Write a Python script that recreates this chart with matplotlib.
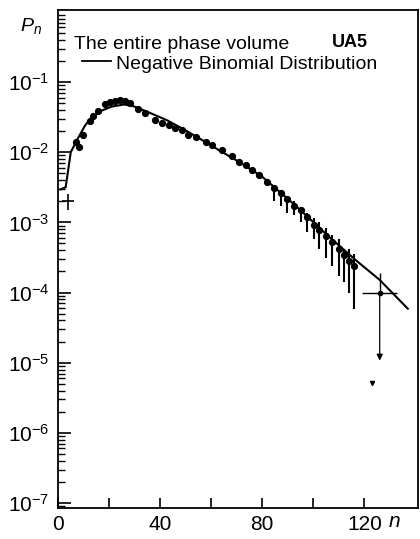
import numpy as np
import matplotlib
matplotlib.use("Agg")
import matplotlib.pyplot as plt
from matplotlib.ticker import FixedLocator, LogLocator, NullFormatter

plt.rcParams['font.family'] = ['Liberation Sans', 'DejaVu Sans']
plt.rcParams['mathtext.fontset'] = 'custom'
plt.rcParams['mathtext.rm'] = 'Liberation Sans'
plt.rcParams['mathtext.it'] = 'Liberation Sans:italic'

# negative binomial fit (log10 P_n)
curve_n = [1, 3, 5, 8, 10.6, 13, 17, 21, 26, 30, 36, 43, 50, 58, 63, 71, 80, 93, 106, 117, 126, 137]
curve_logp = [-2.53, -2.50, -2.0, -1.79, -1.62, -1.51, -1.41, -1.35, -1.32, -1.35, -1.44,
              -1.55, -1.69, -1.86, -1.97, -2.14, -2.35, -2.76, -3.2, -3.55, -3.82, -4.23]

# UA5 data points
pts_n = [7.2, 8.2, 9.8, 12.5, 13.8, 15.7, 18.4, 20.5, 22.4, 24.4, 26.4, 28.3, 31.5, 34, 38,
         40.6, 43.3, 46, 48.4, 51, 53.9, 58, 60.4, 64.2, 68, 71, 73.6, 76, 78.7, 82, 84.6,
         87.4, 89.8, 92.5, 95, 97.6, 100.4, 102.4, 105, 107.5, 110, 112, 114, 116]
pts_logp = [-1.86, -1.93, -1.76, -1.55, -1.48, -1.41, -1.32, -1.28, -1.27, -1.25, -1.27, -1.30,
            -1.39, -1.44, -1.54, -1.58, -1.61, -1.65, -1.69, -1.75, -1.79, -1.86, -1.90, -1.97,
            -2.06, -2.14, -2.18, -2.25, -2.32, -2.42, -2.51, -2.58, -2.67, -2.76, -2.83, -2.93,
            -3.04, -3.11, -3.2, -3.28, -3.38, -3.47, -3.55, -3.62]
# error bar ends (only the last points have visible bars)
err_n = [84.6, 87.4, 89.8, 92.5, 95, 97.6, 100.4, 102.4, 105, 107.5, 110, 112, 114, 116]
err_hi = [-2.49, -2.56, -2.63, -2.70, -2.79, -2.86, -2.94, -3.0, -3.08, -3.18, -3.24, -3.38, -3.38, -3.45]
err_lo = [-2.69, -2.76, -2.86, -2.90, -3.0, -3.14, -3.24, -3.38, -3.51, -3.62, -3.76, -3.85, -4.01, -4.23]
err_mid = [-2.51, -2.58, -2.67, -2.76, -2.83, -2.93, -3.04, -3.11, -3.2, -3.28, -3.38, -3.47, -3.55, -3.62]

# single points with crosses
low_n, low_logp, low_dn, low_hi, low_lo = 4, -2.69, 2.4, -2.60, -2.83
tail_n, tail_logp, tail_dn, tail_hi, tail_lo = 126, -4.01, 6.9, -3.72, -4.97
tiny_n, tiny_logp = 123, -5.29

ytick_exp = [-1, -2, -3, -4, -5, -6, -7]
xtick_vals = [0, 20, 40, 60, 80, 100, 120]
xtick_labels = ['0', '', '40', '', '80', '', '120']

fig = plt.figure(figsize=(4.2, 5.39), dpi=100)
ax = fig.add_axes([58 / 420, 1 - 508 / 539, 360 / 420, 498 / 539])
ax.set_yscale('log')

cn = np.array(curve_n)
ax.plot(cn, 10.0 ** np.array(curve_logp), color='black', lw=1.5)

ax.plot(pts_n, 10.0 ** np.array(pts_logp), 'o', color='black', ms=4.2)

mid = 10.0 ** np.array(err_mid)
ax.errorbar(err_n, mid,
            yerr=[mid - 10.0 ** np.array(err_lo), 10.0 ** np.array(err_hi) - mid],
            fmt='none', ecolor='black', elinewidth=1.5, capsize=0)

ax.errorbar([low_n], [10.0 ** low_logp], xerr=[low_dn],
            yerr=[[10.0 ** low_logp - 10.0 ** low_lo], [10.0 ** low_hi - 10.0 ** low_logp]],
            fmt='none', ecolor='black', elinewidth=1.2, capsize=0)

ax.errorbar([tail_n], [10.0 ** tail_logp], xerr=[tail_dn],
            yerr=[[0], [10.0 ** tail_hi - 10.0 ** tail_logp]],
            fmt='o', color='black', ms=3, elinewidth=1.0, capsize=0)
ax.annotate('', xy=(tail_n, 10.0 ** tail_lo), xytext=(tail_n, 10.0 ** tail_logp),
            arrowprops=dict(arrowstyle='-|>', color='black', lw=0.9,
                            mutation_scale=9, shrinkA=0, shrinkB=0))
ax.plot([tiny_n], [10.0 ** tiny_logp], 'v', color='black', ms=3)

ax.set_xlim(0, 141)
ax.set_ylim(10 ** -7.07, 10 ** 0.026)

ax.set_xticks(xtick_vals)
ax.set_xticklabels(xtick_labels)
ax.yaxis.set_major_locator(FixedLocator([10.0 ** e for e in ytick_exp]))
ax.set_yticklabels([r'$10^{%d}$' % e for e in ytick_exp])
ax.yaxis.set_minor_locator(LogLocator(base=10, subs=np.arange(2, 10), numticks=20))
ax.yaxis.set_minor_formatter(NullFormatter())

ax.tick_params(axis='y', which='major', direction='in', length=9, width=1.2,
               labelsize=15, pad=6)
ax.tick_params(axis='y', which='minor', direction='in', length=5, width=1.0)
ax.tick_params(axis='x', which='major', direction='in', length=7, width=1.2,
               labelsize=15, pad=5)
ax.tick_params(top=False, right=False)
for s in ax.spines.values():
    s.set_linewidth(1.3)

ax.text(0.045, 0.922, 'The entire phase volume', transform=ax.transAxes,
        fontsize=14, va='baseline')
ax.text(0.76, 0.926, 'UA5', transform=ax.transAxes, fontsize=13, fontweight='bold',
        va='baseline')
ax.plot([0.066, 0.148], [0.897, 0.897], color='black', lw=1.3, transform=ax.transAxes)
ax.text(0.16, 0.882, 'Negative Binomial Distribution', transform=ax.transAxes,
        fontsize=14, va='baseline')
ax.text(-0.075, 0.968, r'$P_n$', transform=ax.transAxes, fontsize=14,
        ha='center', va='center')
ax.text(0.935, -0.028, r'$n$', transform=ax.transAxes, fontsize=15,
        ha='center', va='center')

fig.savefig('out.png', dpi=100)
